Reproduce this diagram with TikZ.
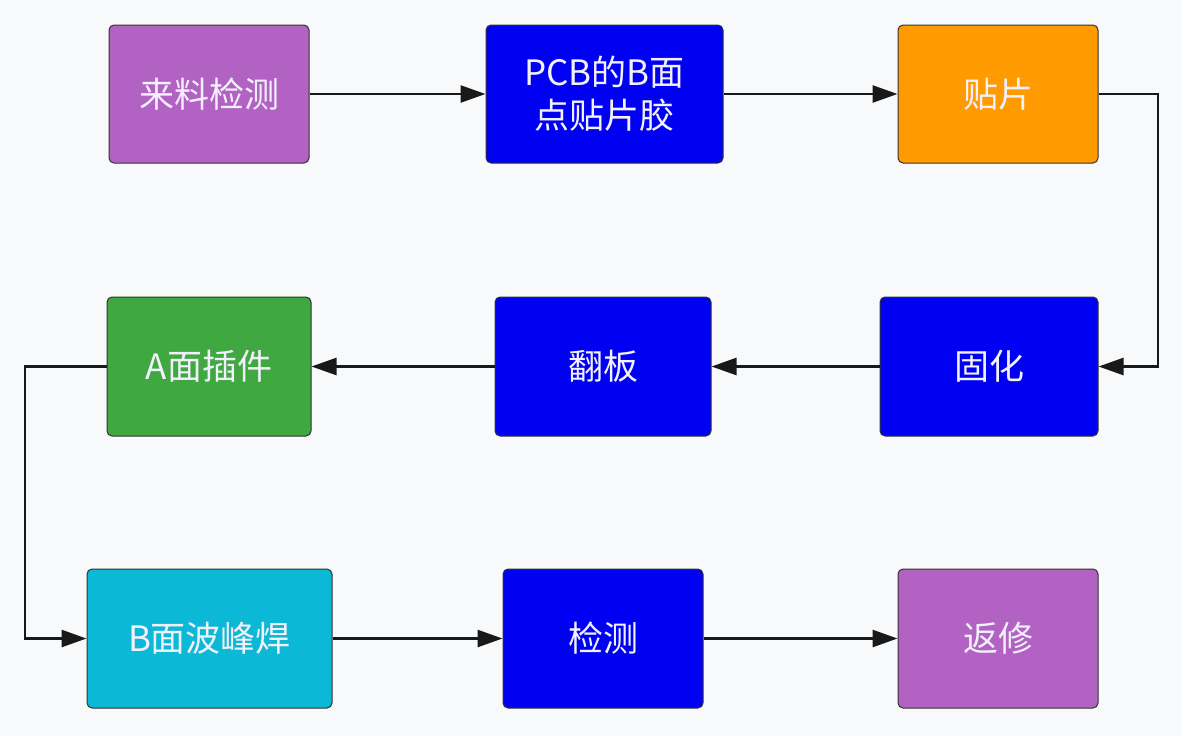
\documentclass[tikz,border=0pt]{standalone}
\usepackage{fontspec}
\setmainfont{Noto Sans CJK SC}
\usetikzlibrary{arrows.meta}
\definecolor{bg}{HTML}{F8F9FA}
\definecolor{cpurple}{HTML}{B262C2}
\definecolor{cblue}{HTML}{0000F2}
\definecolor{corange}{HTML}{FF9A00}
\definecolor{cgreen}{HTML}{40A840}
\definecolor{ccyan}{HTML}{0BB8D6}
\definecolor{ctext}{HTML}{F2F0FA}
\tikzset{
  box/.style={draw=black!80, line width=1pt, rounded corners=5pt, text=ctext,
    font=\fontsize{35}{43}\selectfont, align=center, inner sep=0pt},
  conn/.style={draw=black!90, line width=2.6pt, -{Triangle[length=25pt,width=17pt]}}
}
\begin{document}
\begin{tikzpicture}[x=1pt,y=-1pt]
\fill[bg] (0,0) rectangle (1182,736);
\useasboundingbox (0,0) rectangle (1182,736);
\node[box, fill=cpurple, minimum width=200pt, minimum height=138pt] (n1) at (209,94) {来料检测};
\node[box, fill=cblue, minimum width=237pt, minimum height=138pt] (n2) at (604.5,94) {PCB的B面\\点贴片胶};
\node[box, fill=corange, minimum width=200pt, minimum height=138pt] (n3) at (998,94) {贴片};
\node[box, fill=cblue, minimum width=218pt, minimum height=139pt] (n4) at (989,366.5) {固化};
\node[box, fill=cblue, minimum width=216pt, minimum height=139pt] (n5) at (603,366.5) {翻板};
\node[box, fill=cgreen, minimum width=204pt, minimum height=139pt] (n6) at (209,366.5) {A面插件};
\node[box, fill=ccyan, minimum width=245pt, minimum height=139pt] (n7) at (209.5,638.5) {B面波峰焊};
\node[box, fill=cblue, minimum width=200pt, minimum height=139pt] (n8) at (603,638.5) {检测};
\node[box, fill=cpurple, minimum width=200pt, minimum height=139pt] (n9) at (998,638.5) {返修};
\coordinate (r1) at (1158,94);
\coordinate (r2) at (1158,366.5);
\coordinate (l1) at (25,366.5);
\coordinate (l2) at (25,638.5);
\draw[conn] (n1) -- (n2);
\draw[conn] (n2) -- (n3);
\draw[conn] (n3.east) -- (r1) -- (r2) -- (n4.east);
\draw[conn] (n4) -- (n5);
\draw[conn] (n5) -- (n6);
\draw[conn] (n6.west) -- (l1) -- (l2) -- (n7.west);
\draw[conn] (n7) -- (n8);
\draw[conn] (n8) -- (n9);
\end{tikzpicture}
\end{document}
